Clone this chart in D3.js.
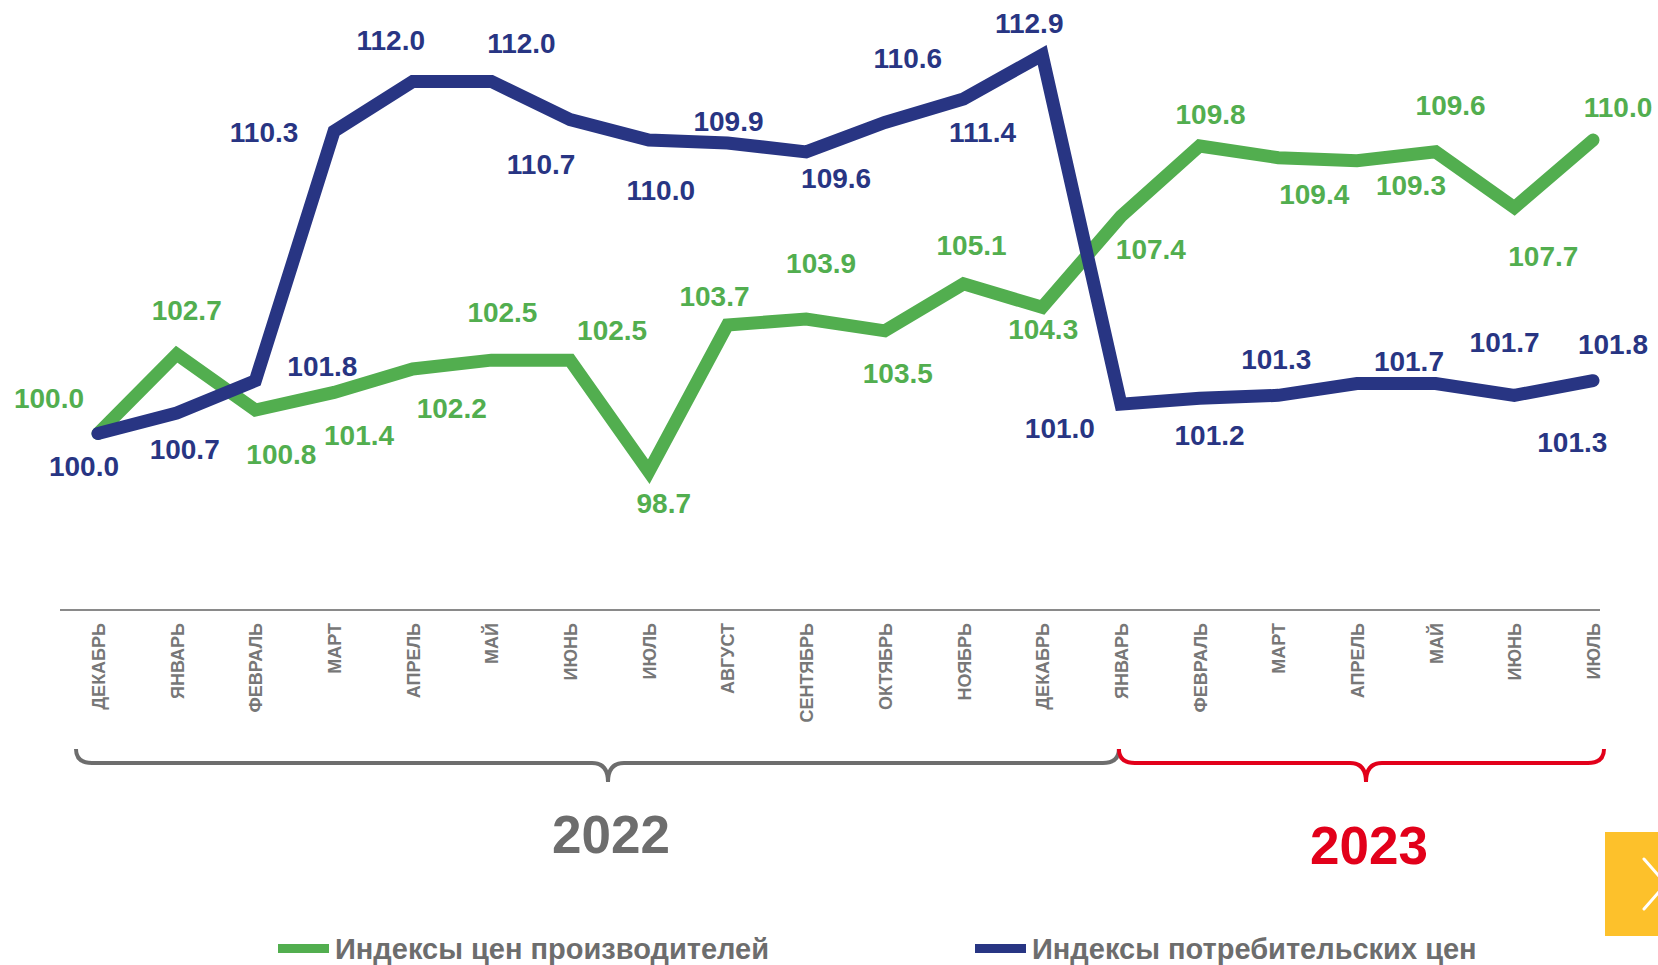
<!DOCTYPE html>
<html>
<head>
<meta charset="utf-8">
<script src="https://cdn.jsdelivr.net/npm/d3@7"></script>
<style>
    html, body { margin: 0; padding: 0; background: #fff; overflow: hidden; }
    text { font-family: "Liberation Sans", Arial, sans-serif; font-weight: bold; }
</style>
</head>
<body>
<svg id="chart" width="1658" height="965"></svg>
<script>
// months on the x axis (Dec 2021 .. Jul 2023)
var months = ["ДЕКАБРЬ", "ЯНВАРЬ", "ФЕВРАЛЬ", "МАРТ", "АПРЕЛЬ", "МАЙ", "ИЮНЬ", "ИЮЛЬ",
    "АВГУСТ", "СЕНТЯБРЬ", "ОКТЯБРЬ", "НОЯБРЬ", "ДЕКАБРЬ",
    "ЯНВАРЬ", "ФЕВРАЛЬ", "МАРТ", "АПРЕЛЬ", "МАЙ", "ИЮНЬ", "ИЮЛЬ"];

// producer price index
var producer = [100.0, 102.7, 100.8, 101.4, 102.2, 102.5, 102.5, 98.7, 103.7, 103.9,
    103.5, 105.1, 104.3, 107.4, 109.8, 109.4, 109.3, 109.6, 107.7, 110.0];

// consumer price index
var consumer = [100.0, 100.7, 101.8, 110.3, 112.0, 112.0, 110.7, 110.0, 109.9, 109.6,
    110.6, 111.4, 112.9, 101.0, 101.2, 101.3, 101.7, 101.7, 101.3, 101.8];

var seriesNames = ["Индексы цен производителей", "Индексы потребительских цен"];
var years = ["2022", "2023"];

// where each value label sits relative to its point (px)
var producerLabelShift = [[-49, -36], [10, -44], [26, 44], [25, 42], [39, 39], [11, -48], [42, -30],
    [15, 31], [-13, -29], [15, -56], [13, 42], [8, -39], [1, 22], [30, 33], [11, -32], [36, 36],
    [54, 24], [15, -47], [29, 48], [25, -33]];
var consumerLabelShift = [[-14, 32], [8, 36], [67, -15], [-70, 1], [-22, -42], [30, -39], [-29, 44],
    [12, 50], [1, -22], [30, 26], [23, -65], [19, 33], [-13, -32], [-61, 24], [10, 37], [-2, -36],
    [52, -23], [69, -42], [58, 47], [20, -37]];

var green = "#52ae4f",
    blue = "#283583",
    grey = "#6d6d6d";

var svg = d3.select("#chart");

var x = d3.scalePoint()
    .domain(d3.range(months.length))
    .range([98, 1593]);

var y = d3.scaleLinear()
    .domain([100, 110])
    .range([433.5, 140.1]);

var line = d3.line()
    .x(function (d, i) { return x(i); })
    .y(function (d) { return y(d); });

// axis line
svg.append("line")
    .attr("x1", 60).attr("x2", 1600)
    .attr("y1", 610).attr("y2", 610)
    .attr("stroke", "#8a8a8a")
    .attr("stroke-width", 2);

// month labels
var xAxis = svg.append("g")
    .attr("transform", "translate(0,623)")
    .call(d3.axisBottom(x).tickSize(0).tickFormat(function (i) { return months[i]; }));
xAxis.select(".domain").remove();
xAxis.selectAll("text")
    .attr("transform", "rotate(-90)")
    .attr("x", 0)
    .attr("y", 0)
    .attr("dy", "0.36em")
    .attr("text-anchor", "end")
    .style("font-family", "'Liberation Sans', Arial, sans-serif")
    .style("font-weight", "bold")
    .style("font-size", "18px")
    .attr("fill", "#777");

// lines
svg.append("path")
    .datum(producer)
    .attr("d", line)
    .attr("fill", "none")
    .attr("stroke", green)
    .attr("stroke-width", 13)
    .attr("stroke-linejoin", "miter")
    .attr("stroke-linecap", "round");

svg.append("path")
    .datum(consumer)
    .attr("d", line)
    .attr("fill", "none")
    .attr("stroke", blue)
    .attr("stroke-width", 13)
    .attr("stroke-linejoin", "miter")
    .attr("stroke-linecap", "round");

// value labels
function addLabels(data, shift, color) {
    svg.append("g").selectAll("text")
        .data(data)
        .enter().append("text")
        .attr("x", function (d, i) { return x(i) + shift[i][0]; })
        .attr("y", function (d, i) { return y(d) + shift[i][1]; })
        .attr("dy", "0.36em")
        .attr("text-anchor", "middle")
        .attr("fill", color)
        .style("font-size", "28px")
        .text(function (d) { return d.toFixed(1); });
}
addLabels(producer, producerLabelShift, green);
addLabels(consumer, consumerLabelShift, blue);

// curly braces under the axis
function brace(x0, x1, tip, color) {
    var top = 749, mid = 763, low = 782, r = 16;
    var p = d3.path();
    p.moveTo(x0, top);
    p.quadraticCurveTo(x0, mid, x0 + r, mid);
    p.lineTo(tip - r, mid);
    p.quadraticCurveTo(tip, mid, tip, low);
    p.quadraticCurveTo(tip, mid, tip + r, mid);
    p.lineTo(x1 - r, mid);
    p.quadraticCurveTo(x1, mid, x1, top);
    svg.append("path")
        .attr("d", p.toString())
        .attr("fill", "none")
        .attr("stroke", color)
        .attr("stroke-width", 4);
}
var split = x(13) - 2;
brace(76, split, 608, grey);
brace(split, 1604, 1366, "#e2001a");

svg.append("text")
    .attr("x", 611).attr("y", 853)
    .attr("text-anchor", "middle")
    .attr("fill", grey)
    .style("font-size", "53px")
    .text(years[0]);

svg.append("text")
    .attr("x", 1369).attr("y", 864)
    .attr("text-anchor", "middle")
    .attr("fill", "#e2001a")
    .style("font-size", "53px")
    .text(years[1]);

// yellow next button
svg.append("rect")
    .attr("x", 1605).attr("y", 832)
    .attr("width", 60).attr("height", 104)
    .attr("fill", "#fdc12b");
svg.append("path")
    .attr("d", "M1644,859 L1666,884 L1644,909")
    .attr("fill", "none")
    .attr("stroke", "#fff")
    .attr("stroke-width", 3)
    .attr("stroke-linecap", "round");

// legend
var legend = svg.append("g");
[[278, green], [975, blue]].forEach(function (it, i) {
    legend.append("rect")
        .attr("x", it[0]).attr("y", 944)
        .attr("width", 51).attr("height", 9)
        .attr("fill", it[1]);
    legend.append("text")
        .attr("x", it[0] + 57).attr("y", 959)
        .attr("fill", grey)
        .style("font-size", "29px")
        .text(seriesNames[i]);
});
</script>
</body>
</html>
